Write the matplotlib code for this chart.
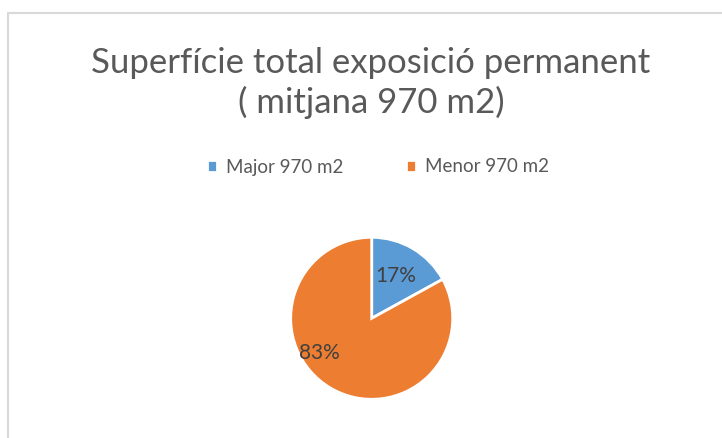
import matplotlib.pyplot as plt
from matplotlib.patches import Rectangle

# data
labels = ['Major 970 m2', 'Menor 970 m2']
values = [17, 83]
colors = ['#5B9BD5', '#ED7D31']
title = 'Superfície total exposició permanent\n( mitjana 970 m2)'

W, H = 722, 438
fig = plt.figure(figsize=(W / 100, H / 100), dpi=100)
plt.rcParams['font.family'] = ['Lato', 'DejaVu Sans']

# light grey chart border (cut by the image edge on right and bottom)
fig.patches.append(Rectangle((7.5 / W, -0.1), 1.0, (H - 12.5) / H + 0.1,
                             transform=fig.transFigure, fill=False,
                             edgecolor='#D9D9D9', linewidth=1.5))

# pie axes: centre (371.7, 318.3) px, radius 81 px
cx, cy, r = 371.7, 318.3, 81
ax = fig.add_axes([(cx - r) / W, (H - cy - r) / H, 2 * r / W, 2 * r / H])
wedges, texts, autotexts = ax.pie(values, colors=colors, startangle=90,
                                  counterclock=False, autopct='%1.0f%%',
                                  pctdistance=0.6,
                                  wedgeprops=dict(edgecolor='white', linewidth=2),
                                  textprops=dict(color='#404040', fontsize=15))
autotexts[0].set_position((0.3, 0.52))
autotexts[1].set_position((-0.64, -0.43))
ax.set_xlim(-1, 1)
ax.set_ylim(-1, 1)
ax.set_aspect('equal')
ax.axis('off')

fig.text(371 / W, 1 - 83 / H, title, ha='center', va='center',
         fontsize=25, color='#595959', linespacing=1.27)

fig.legend(wedges, labels, ncol=2, loc='center', bbox_to_anchor=(378 / W, 1 - 167 / H),
           frameon=False, fontsize=13.5, handlelength=0.55, handleheight=0.55,
           handletextpad=0.5, columnspacing=3.3, labelcolor='#595959')

fig.savefig('out.png', dpi=100)
